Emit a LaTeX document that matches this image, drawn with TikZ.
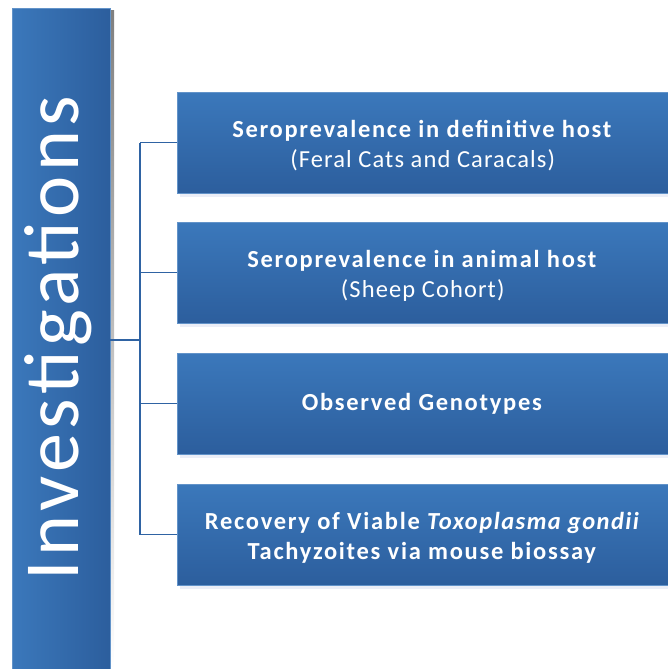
\documentclass[tikz,border=0pt]{standalone}
\usepackage{fontspec}
\setmainfont{Carlito}
\newfontfamily\titlefont[LetterSpace=6]{Carlito}
\newfontfamily\boxfont[LetterSpace=4.5,BoldFeatures={LetterSpace=7},BoldItalicFeatures={LetterSpace=6}]{Carlito}
\definecolor{blueLight}{HTML}{3B78BB}
\definecolor{blueDark}{HTML}{2C5E9D}
\definecolor{lineBlue}{HTML}{2F63A3}
\definecolor{shade}{HTML}{EBEEF7}
\newcommand{\lift}{\rule{0pt}{23bp}}
\tikzset{
  px/.style={x=1bp,y=-1bp},
  topicbox/.style={minimum width=491bp,minimum height=101bp,anchor=north west,
    inner sep=0pt,top color=blueLight,bottom color=blueDark,
    draw=blueLight!80!white,line width=0.4bp,
    text=white,align=center,font=\boxfont\fontsize{24.5bp}{30bp}\selectfont},
  boxshadow/.style={fill=shade,draw=none},
  link/.style={draw=lineBlue,line width=1.5bp},
}
\begin{document}
\begin{tikzpicture}[px]
\useasboundingbox (0,0) rectangle (668,669);
% side bar with its soft shadow
\fill[shade] (110,11) rectangle (114,669);
\node[anchor=north west,minimum width=98bp,minimum height=661bp,inner sep=0pt,
  left color=blueLight,right color=blueDark,draw=blueLight!80!white,line width=0.4bp]
  (bar) at (12,8) {};
\node[rotate=90,text=white,font=\titlefont\fontsize{78bp}{80bp}\selectfont,inner sep=0pt]
  (title) at (58,338) {Investigations};
% shadows under the topic boxes
\foreach \y in {92,222,353,484}
  \fill[boxshadow] (180,\y+101) rectangle (668,\y+105);
% topic boxes
\node[topicbox] (b1) at (177,92) {\lift\textbf{Seroprevalence in definitive host}\\(Feral Cats and Caracals)};
\node[topicbox] (b2) at (177,222) {\lift\textbf{Seroprevalence in animal host}\\(Sheep Cohort)};
\node[topicbox] (b3) at (177,353) {\textbf{Observed Genotypes}};
\node[topicbox] (b4) at (177,484) {\lift\textbf{Recovery of Viable \textit{Toxoplasma gondii}}\\\textbf{Tachyzoites via mouse biossay}};
% bracket connectors
\coordinate (hub) at (140,340);
\coordinate (top) at (140,0 |- b1.west);
\coordinate (bot) at (140,0 |- b4.west);
\draw[link] (bar.east |- hub) -- (hub);
\draw[link] (top) -- (bot);
\draw[link] (top) -- (b1.west);
\draw[link] (140,0 |- b2.west) -- (b2.west);
\draw[link] (140,0 |- b3.west) -- (b3.west);
\draw[link] (bot) -- (b4.west);
\end{tikzpicture}
\end{document}
